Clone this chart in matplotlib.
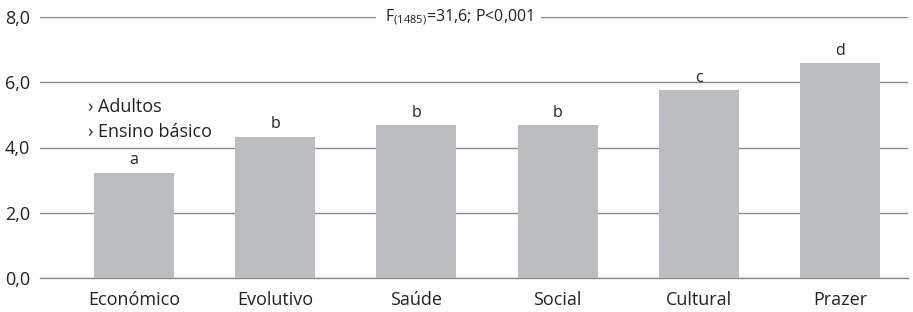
import matplotlib
matplotlib.use("Agg")
import matplotlib.pyplot as plt

categories = ["Económico", "Evolutivo", "Saúde", "Social", "Cultural", "Prazer"]
values = [3.23, 4.33, 4.69, 4.69, 5.76, 6.57]
letters = ["a", "b", "b", "b", "c", "d"]
yticks = [0, 2, 4, 6, 8]
ytick_labels = ["0,0", "2,0", "4,0", "6,0", "8,0"]
title_text = r"F$_{(1485)}$=31,6; P<0,001"
note_lines = ["› Adultos", "› Ensino básico"]

plt.rcParams['font.family'] = ['Open Sans', 'DejaVu Sans']
plt.rcParams['mathtext.fontset'] = 'custom'
plt.rcParams['mathtext.rm'] = 'Open Sans'
plt.rcParams['mathtext.it'] = 'Open Sans'

W, H = 913, 312
fig = plt.figure(figsize=(W/100, H/100), dpi=100)
ax = fig.add_axes([40/W, (H-278.3)/H, (908-40)/W, (278.3-16.7)/H])

x = list(range(len(categories)))
bar_w = 80/141.2
ax.bar(x, values, width=bar_w, color="#bcbdc1", zorder=3)
for xi, v, l in zip(x, values, letters):
    ax.text(xi, v + 0.13, l, ha="center", va="bottom", fontsize=11.5, color="#222222", zorder=4)

ax.set_xlim(-(134-40)/141.2, (908-134)/141.2)
ax.set_ylim(0, 8)
ax.set_yticks(yticks)
ax.set_yticklabels(ytick_labels)
ax.set_xticks(x)
ax.set_xticklabels(categories)
ax.grid(axis="y", color="#8a8a8a", linewidth=1, zorder=0)
ax.set_axisbelow(True)
for s in ["left", "right", "top"]:
    ax.spines[s].set_visible(False)
ax.spines["bottom"].set_color("#8a8a8a")
ax.spines["bottom"].set_linewidth(1)
ax.tick_params(axis="both", length=0, labelsize=13, colors="#222222")
ax.tick_params(axis="y", pad=7)
ax.tick_params(axis="x", pad=9)

ax.text(2.30, 8, title_text, ha="center", va="center", fontsize=11.5, color="#222222",
        bbox=dict(facecolor="white", edgecolor="none", pad=6), zorder=5)

ax.text(-0.326, 5.24, note_lines[0], ha="left", va="center", fontsize=13, color="#222222")
ax.text(-0.326, 4.47, note_lines[1], ha="left", va="center", fontsize=13, color="#222222")

fig.savefig("out.png", dpi=100)
